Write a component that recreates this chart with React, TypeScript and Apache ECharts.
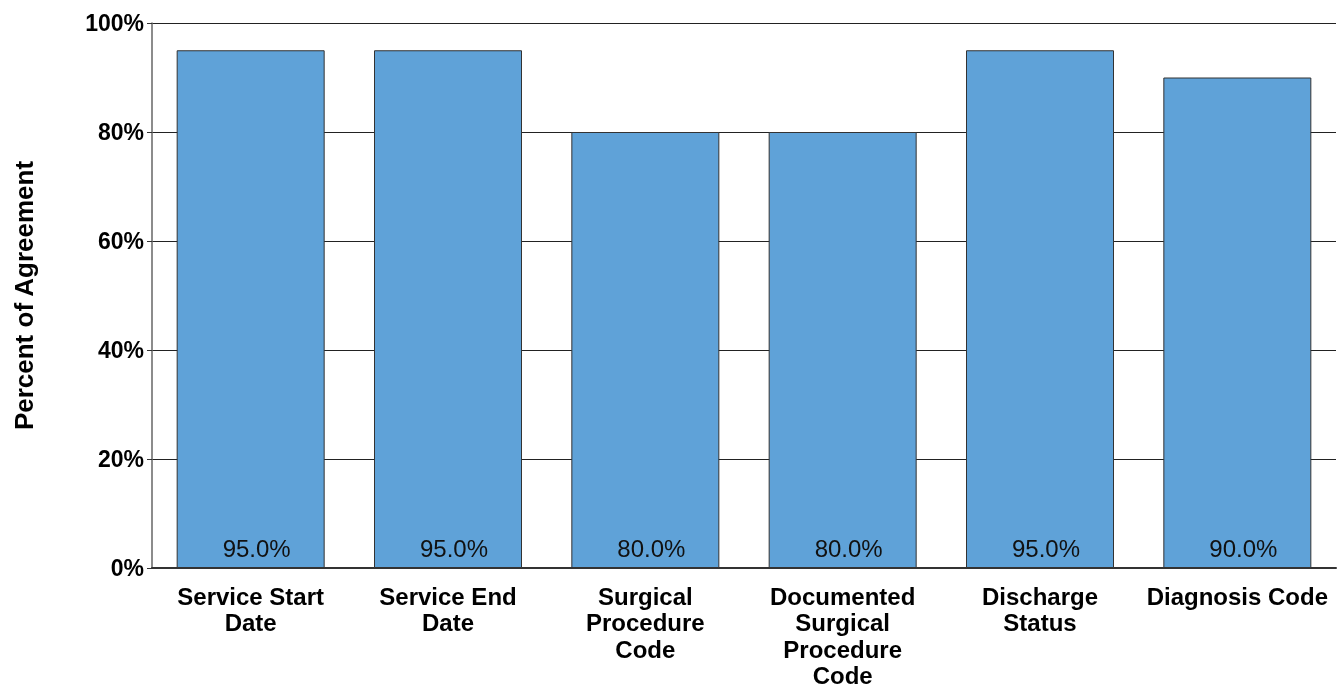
import React, { useEffect, useRef } from "react";
import * as echarts from "echarts";

const categories = [
  "Service Start\nDate",
  "Service End\nDate",
  "Surgical\nProcedure\nCode",
  "Documented\nSurgical\nProcedure\nCode",
  "Discharge\nStatus",
  "Diagnosis Code",
];
const agreement = [95.0, 95.0, 80.0, 80.0, 95.0, 90.0];
const yTicks = [0, 20, 40, 60, 80, 100];

const FONT = "'Liberation Sans', Arial, sans-serif";

export default function App() {
  const ref = useRef<HTMLDivElement>(null);

  useEffect(() => {
    if (!ref.current) return;
    const chart = echarts.init(ref.current, undefined, { renderer: "svg" });
    chart.setOption({
      animation: false,
      textStyle: { fontFamily: FONT },
      grid: {
        left: 152,
        right: 4,
        top: 23,
        bottom: 122,
        containLabel: false,
        outerBoundsMode: "none",
      },
      xAxis: {
        type: "category",
        data: categories,
        axisLine: { show: true, lineStyle: { color: "#333", width: 2 } },
        axisTick: { show: false },
        axisLabel: {
          interval: 0,
          margin: 15,
          fontSize: 24,
          fontWeight: "bold",
          color: "#000",
          lineHeight: 26.5,
          fontFamily: FONT,
        },
      },
      yAxis: {
        type: "value",
        min: yTicks[0],
        max: yTicks[yTicks.length - 1],
        interval: 20,
        name: "Percent of Agreement",
        nameLocation: "middle",
        nameRotate: 90,
        nameGap: 115,
        nameTextStyle: { fontSize: 26, fontWeight: "bold", color: "#000", fontFamily: FONT },
        axisLine: { show: true, lineStyle: { color: "#666", width: 1.5 } },
        axisTick: { show: true, length: 5, lineStyle: { color: "#333" } },
        axisLabel: {
          formatter: "{value}%",
          fontSize: 23,
          fontWeight: "bold",
          color: "#000",
          margin: 8,
          fontFamily: FONT,
        },
        splitLine: { show: true, lineStyle: { color: "#222", width: 1 } },
      },
      series: [
        {
          type: "bar",
          data: agreement,
          barCategoryGap: "25%",
          itemStyle: { color: "#5FA2D8", borderColor: "#333", borderWidth: 1 },
          label: {
            show: true,
            position: "insideBottom",
            distance: 8,
            offset: [6, 0],
            fontSize: 24,
            color: "#111",
            fontFamily: FONT,
            formatter: (p: any) => p.value.toFixed(1) + "%",
          },
        },
      ],
    });
    return () => chart.dispose();
  }, []);

  return (
    <div
      ref={ref}
      style={{ position: "fixed", left: 0, top: 0, width: 1340, height: 690 }}
    />
  );
}
